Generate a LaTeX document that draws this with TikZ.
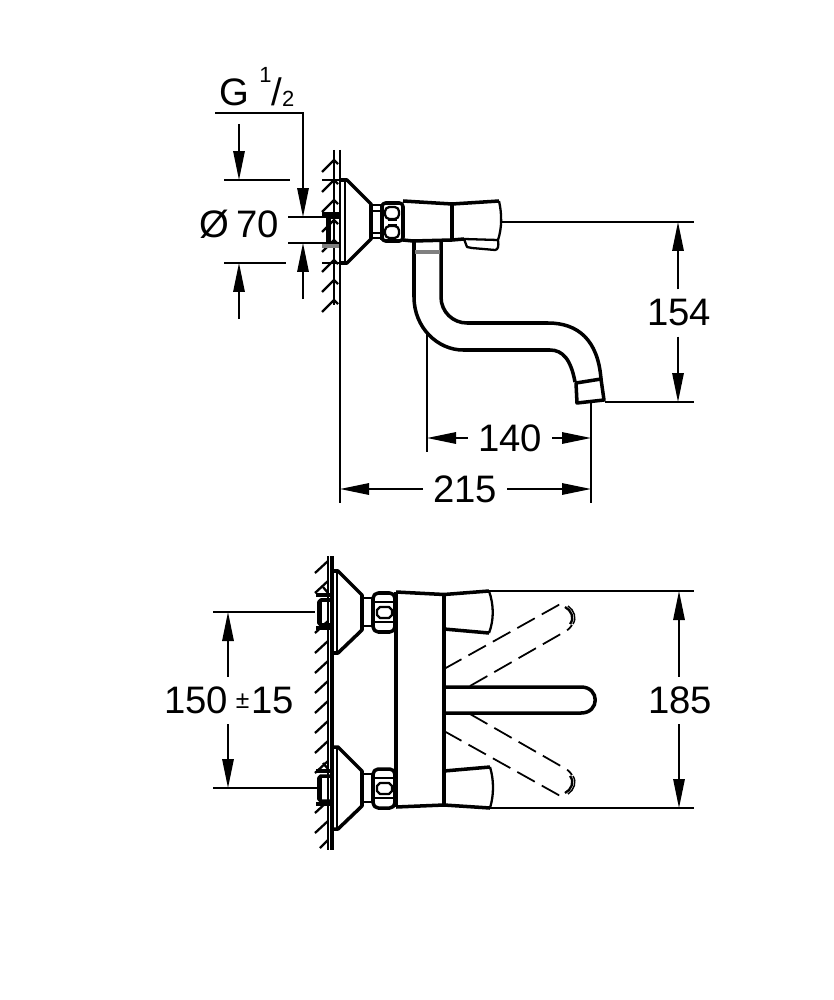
\documentclass[tikz,border=0pt]{standalone}
\usepackage{fontspec}
\setmainfont{Liberation Sans}
\usetikzlibrary{arrows.meta}
\tikzset{
  thinline/.style={line width=0.85pt},
  part/.style={line width=1.3pt, line join=round},
  heavy/.style={line width=2pt, line join=round},
  dimarrow/.style={line width=0.85pt, -{Triangle[length=.58cm,width=.23cm]}},
  dimlabel/.style={inner sep=.2cm, font=\fontsize{21.8}{24}\selectfont},
  ghost/.style={line width=1pt, dash pattern=on .4cm off .16cm}
}
\begin{document}
\begin{tikzpicture}[x=0.02cm,y=-0.02cm]
    \useasboundingbox (0,0) rectangle (834,1000);

    % Pared arriba
    \draw[part] (334,150) -- (334,305);
    \draw[part] (340,150) -- (340,305);
    \draw[thinline] (340,305) -- (340,503);
    \foreach \yy in {160,180,...,300}
        \draw[part] (322,\yy+12) -- (334,\yy) -- (338,\yy+4);

    % Entrada arriba
    \draw[heavy] (322,214) -- (339,214);
    \draw[heavy, gray] (322,246) -- (339,246);
    \draw[heavy] (339,217) -- (328,217) -- (328,243);
    \draw[thinline] (328,243) -- (339,243);
    \draw[heavy] (329.5,217) -- (329.5,243);

    % Roseta arriba
    \draw[heavy] (340,180) -- (347,180) -- (371,204) -- (371,239) -- (347,263) -- (340,263);
    \draw[thinline] (345,180) -- (345,263);
    \draw[part] (371,205) -- (382,205);
    \draw[part] (371,211) -- (382,211);
    \draw[part] (371,233) -- (382,233);
    \draw[part] (371,238) -- (382,238);
    \draw[heavy] (382,204) -- (382,240);
    \draw[heavy, rounded corners=2pt] (382,203) rectangle (403,241);
    \draw[part, rounded corners=2.5pt] (385,207) rectangle (399,219);
    \draw[part, rounded corners=2.5pt] (385,226) rectangle (399,238);
    \draw[part] (388,220) -- (397,220);
    \draw[part] (388,225) -- (397,225);

    % Cuerpo arriba
    \draw[heavy] (403,201) -- (452,204) -- (499,201);
    \draw[part] (499,201) .. controls (502,214) and (502,228) .. (498,240);
    \draw[heavy] (452,204) -- (452,240);
    \draw[heavy] (403,240) -- (413,241) -- (452,240) -- (464,239);
    \draw[part] (464,239) -- (498,240) .. controls (499,246) and (498,250) .. (495,250)
        -- (472,248) -- (467,247) -- cycle;

    % Caño
    \draw[heavy] (414,242) -- (414,297) .. controls (414,328) and (438,350) .. (463,350)
        -- (550,350) .. controls (563,350) and (571,360) .. (575,382);
    \draw[heavy] (441,241) -- (441,297) .. controls (441,312) and (453,323) .. (467,323)
        -- (548,323) .. controls (578,323) and (598,340) .. (601,379);
    \draw[heavy, gray] (415,252) -- (440,252);
    \draw[heavy] (576,383) -- (601,379) -- (604,400) -- (577,403) -- cycle;

    % Pared abajo
    \draw[part] (328,556) -- (328,850);
    \draw[heavy] (332,556) -- (332,850);
    \foreach \yy in {573,593,633,653,673,693,713,733,753,773,813,833}
        \draw[part] (315,\yy) -- (328,\yy-12);
    \draw[part] (320,848) -- (328,840);

    % Roseta y entrada abajo
    \foreach \dy in {0,176}{
        \begin{scope}[yshift=-\dy*0.02cm]
        \draw[heavy] (332,571) -- (338,571) -- (362,595) -- (362,630) -- (338,653) -- (332,653);
        \draw[thinline] (337,571) -- (337,653);
        \draw[part] (362,598) -- (373,598);
        \draw[part] (362,626) -- (373,626);
        \draw[heavy, rounded corners=3pt] (373,593) rectangle (395,632);
        \draw[part] (375,602) -- (393,602);
        \draw[part] (375,622) -- (393,622);
        \draw[part] (380,607) -- (389,607) -- (392,610) -- (392,615) -- (389,618)
            -- (380,618) -- (377,615) -- (377,610) -- cycle;
        \draw[heavy] (316,595) -- (330,595);
        \draw[heavy] (316,628) -- (330,628);
        \draw[part] (323,587) -- (328,593);
        \draw[heavy, rounded corners=1pt] (330,600) -- (319,600) -- (319,625) -- (330,625);
        \draw[heavy] (320.5,600) -- (320.5,625);
        \end{scope}
    }

    % Cuerpo abajo
    \draw[heavy] (396,592) -- (396,807);
    \draw[heavy] (396,592) -- (444,594.5) -- (489,591);
    \draw[heavy] (396,807) -- (444,805) -- (490,808);
    \draw[heavy] (444,594) -- (444,805);
    \draw[heavy] (444,629) -- (489,633);
    \draw[heavy] (444,771) -- (490,767);
    \draw[part] (489,591) .. controls (494,605) and (494,620) .. (489,633);
    \draw[part] (490,767) .. controls (494,780) and (494,795) .. (490,808);

    % Palanca
    \draw[heavy] (444,687) -- (581,687) .. controls (600,687) and (600,713) .. (581,713) -- (444,713);

    % Palanca en trazos
    \draw[ghost] (444,669) -- (555,607) .. controls (558,605) and (560,604) .. (563,604);
    \draw[ghost] (470,686) -- (566,631) .. controls (569,629) and (571,627) .. (572,625);
    \draw[part] (565,607) .. controls (571,610) and (575,618) .. (570,624);
    \draw[thinline] (568,606) .. controls (574,610) and (577,618) .. (573,624);
    \draw[ghost] (444,731) -- (555,793) .. controls (558,795) and (560,796) .. (563,796);
    \draw[ghost] (470,714) -- (566,769) .. controls (569,771) and (571,773) .. (572,775);
    \draw[part] (565,793) .. controls (571,790) and (575,782) .. (570,776);
    \draw[thinline] (568,794) .. controls (574,790) and (577,782) .. (573,776);

    % Cotas rosca
    \node[font=\fontsize{21.8}{24}\selectfont, inner sep=0pt] (rosca) at (257,87)
        {G\hspace{.26em}\raisebox{.6em}{\fontsize{12.5}{14}\selectfont 1}/\raisebox{-.02em}{\fontsize{12.5}{14}\selectfont 2}};
    \coordinate (roscaA) at (215,113);
    \coordinate (roscaB) at (303,113);
    \coordinate (roscaT) at (303,217);
    \coordinate (roscaU) at (303,299);
    \coordinate (roscaV) at (303,243);
    \draw[dimarrow] (roscaA) -- (roscaB) -- (roscaT);
    \draw[dimarrow] (roscaU) -- (roscaV);
    \draw[thinline] (288,217) -- (328,217);
    \draw[thinline] (288,243) -- (328,243);

    % Cota 70
    \node[dimlabel, inner sep=0pt] (d70) at (239,224) {Ø\hspace{.18em}70};
    \coordinate (d70a) at (239,124);
    \coordinate (d70b) at (239,180);
    \coordinate (d70c) at (239,319);
    \coordinate (d70d) at (239,263);
    \draw[dimarrow] (d70a) -- (d70b);
    \draw[dimarrow] (d70c) -- (d70d);
    \draw[thinline] (224,180) -- (290,180);
    \draw[thinline] (224,263) -- (286,263);
    \draw[part] (322,180) -- (340,180);
    \draw[part] (322,263) -- (340,263);

    % Cota 154
    \node[dimlabel] (d154) at (679,313) {154};
    \coordinate (d154a) at (678,222);
    \coordinate (d154b) at (678,402);
    \draw[dimarrow] (d154.north -| d154a) -- (d154a);
    \draw[dimarrow] (d154.south -| d154b) -- (d154b);
    \draw[thinline] (501,222) -- (694,222);
    \draw[thinline] (605,402) -- (694,402);

    % Cota 140
    \node[dimlabel] (d140) at (510,438) {140};
    \coordinate (d140a) at (427,438);
    \coordinate (d140b) at (591,438);
    \draw[dimarrow] (d140) -- (d140a);
    \draw[dimarrow] (d140) -- (d140b);
    \draw[thinline] (427,333) -- (427,452);
    \draw[thinline] (591,403) -- (591,503);

    % Cota 215
    \node[dimlabel] (d215) at (465,489) {215};
    \coordinate (d215a) at (340,489);
    \coordinate (d215b) at (591,489);
    \draw[dimarrow] (d215) -- (d215a);
    \draw[dimarrow] (d215) -- (d215b);

    % Cota 150
    \node[dimlabel] (d150) at (229,700.5)
        {150\hspace{.2em}\raisebox{2.8pt}{\fontsize{14}{15}\selectfont ±}\hspace{.05em}15};
    \coordinate (d150a) at (228,612);
    \coordinate (d150b) at (228,788);
    \draw[dimarrow] (d150.north -| d150a) -- (d150a);
    \draw[dimarrow] (d150.south -| d150b) -- (d150b);
    \draw[thinline] (213,612) -- (315,612);
    \draw[thinline] (213,788) -- (318,788);

    % Cota 185
    \node[dimlabel] (d185) at (680,700.5) {185};
    \coordinate (d185a) at (679,591);
    \coordinate (d185b) at (679,808);
    \draw[dimarrow] (d185.north -| d185a) -- (d185a);
    \draw[dimarrow] (d185.south -| d185b) -- (d185b);
    \draw[thinline] (489,591) -- (694,591);
    \draw[thinline] (490,808) -- (694,808);

\end{tikzpicture}
\end{document}
